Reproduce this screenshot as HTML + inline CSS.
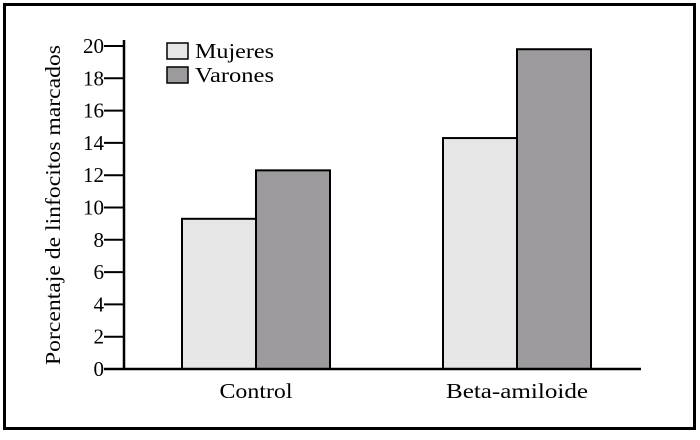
<!DOCTYPE html>
<html><head><meta charset="utf-8"><style>
body{margin:0;background:#fff}
svg text{font-family:"Liberation Serif","DejaVu Serif",serif !important;fill:#000}
</style></head><body>
<svg width="700" height="435" font-family="Liberation Serif, serif">
<rect x="4.5" y="4.5" width="690" height="424" fill="none" stroke="#000" stroke-width="3"/>
<g id="plot"></g>
<text transform="translate(60,205) rotate(-90)" text-anchor="middle" font-size="21" textLength="320" lengthAdjust="spacingAndGlyphs">Porcentaje de linfocitos marcados</text>
<g>
<rect x="167" y="43" width="21" height="16" fill="#e6e6e6" stroke="#000" stroke-width="1.5"/>
<text x="195" y="58" font-size="21" textLength="79" lengthAdjust="spacingAndGlyphs">Mujeres</text>
<rect x="167" y="67" width="21" height="16" fill="#9c9a9c" stroke="#000" stroke-width="1.5"/>
<text x="195" y="82" font-size="21" textLength="79" lengthAdjust="spacingAndGlyphs">Varones</text>
</g>
</svg>
<script>
const categories=["Control","Beta-amiloide"];
const mujeres=[9.3,14.3];
const varones=[12.3,19.8];
const ticks=[0,2,4,6,8,10,12,14,16,18,20];
const NS="http://www.w3.org/2000/svg";
const g=document.getElementById('plot');
const y=v=>369-v*16.15;
const catX=[256,517];
const labW=[73,142];
function mk(t,a){const e=document.createElementNS(NS,t);for(const k in a)e.setAttribute(k,a[k]);g.appendChild(e);return e;}
categories.forEach((c,i)=>{
 const b1=mk('rect',{x:catX[i]-74,y:y(mujeres[i]),width:74,height:369-y(mujeres[i]),fill:'#e6e6e6',stroke:'#000','stroke-width':2});
 
 
 const b2=mk('rect',{x:catX[i],y:y(varones[i]),width:74,height:369-y(varones[i]),fill:'#9c9a9c',stroke:'#000','stroke-width':2});
 
 
 const t=mk('text',{x:catX[i],y:398,'text-anchor':'middle','font-size':21,textLength:labW[i],lengthAdjust:'spacingAndGlyphs'});
 t.textContent=c;
 
 
});
const ax=mk('line',{x1:124,y1:40,x2:124,y2:369,stroke:'#000','stroke-width':2.5});


const bx=mk('line',{x1:104,y1:369,x2:641,y2:369,stroke:'#000','stroke-width':2.5});


ticks.forEach(v=>{
 const l=mk('line',{x1:104,y1:y(v),x2:124,y2:y(v),stroke:'#000','stroke-width':2});
 
 
 const t=mk('text',{x:104,y:y(v)+7,'text-anchor':'end','font-size':21});
 t.textContent=v;
 
 
});
</script>
</body></html>
